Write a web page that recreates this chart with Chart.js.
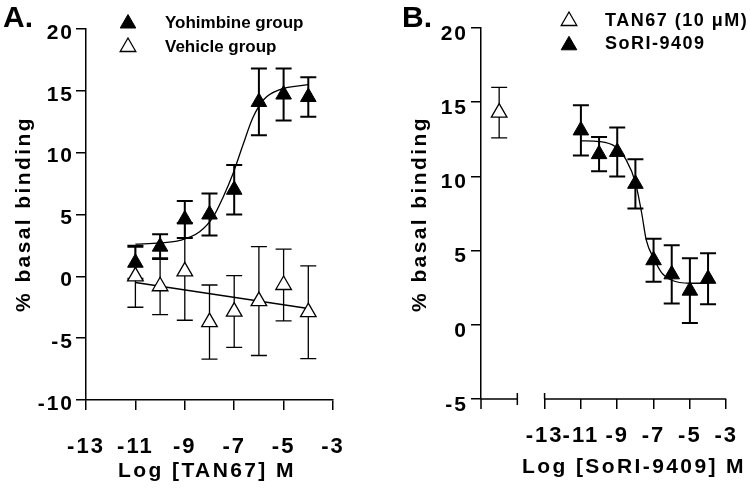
<!DOCTYPE html>
<html>
<head>
<meta charset="utf-8">
<script src="https://cdn.jsdelivr.net/npm/chart.js@4.4.1/dist/chart.umd.min.js"></script>
<style>
  html, body { margin: 0; padding: 0; background: #fff; }
  #wrap { position: relative; width: 750px; height: 494px; }
  canvas { position: absolute; top: 0; }
  #chartA { left: 0; }
  #chartB { left: 375px; }
</style>
</head>
<body>
<div id="wrap">
  <canvas id="chartA" width="375" height="494"></canvas>
  <canvas id="chartB" width="375" height="494"></canvas>
</div>
<script>
// ── Panel A data (log dose of TAN67) ──
const doseA = [-11, -10, -9, -8, -7, -6, -5, -4];
const yohMean = [1.1, 2.4, 4.6, 5.0, 7.0, 14.1, 14.7, 14.5];
const yohErr  = [1.3, 1.0, 1.5, 1.7, 2.0, 2.7, 2.1, 1.6];
const vehMean = [0.0, -0.8, 0.4, -3.7, -2.85, -2.0, -0.7, -2.9];
const vehErr  = [2.5, 2.3, 3.95, 3.0, 2.9, 4.4, 2.9, 3.75];
// fitted curves
const yohFitX = [-11, -10, -9.2, -8.4, -7.85, -7.45, -7.05, -6.65, -6.25, -5.8, -5.15, -4];
const yohFitY = [2.6, 2.7, 2.9, 3.6, 4.8, 6.4, 8.3, 10.6, 12.8, 14.3, 15.1, 15.5];
const vehFitX = [-11, -4];
const vehFitY = [-0.5, -2.6];
const xTicksA = [-13, -11, -9, -7, -5, -3];
const yTicksA = [-10, -5, 0, 5, 10, 15, 20];

// ── Panel B data (log dose of SoRI-9409) ──
const doseB = [-11, -10, -9, -8, -7, -6, -5, -4];
const soriMean = [13.1, 11.5, 11.65, 9.5, 4.35, 3.4, 2.3, 3.1];
const soriErr  = [1.7, 1.16, 1.65, 1.66, 1.45, 1.96, 2.18, 1.72];
const tanX = [-15.5];
const tanMean = [14.3];
const tanErr = [1.7];
const soriFitX = [-11, -10, -9.1, -8.5, -8, -7.65, -7.4, -7, -6.55, -6, -5, -4];
const soriFitY = [12.4, 12.35, 12.0, 11.1, 9.6, 7.5, 5.7, 4.5, 3.5, 3.0, 2.8, 2.8];
const xTicksB = [-13, -11, -9, -7, -5, -3];
const yTicksB = [-5, 0, 5, 10, 15, 20];
const axisBreakB = [-14.5, -13];

Chart.defaults.font.family = '"Liberation Sans", Arial, sans-serif';
Chart.defaults.color = '#000';

const pts = (xs, ys) => xs.map((x, i) => ({ x, y: ys[i] }));

// error bars under the markers
const errorBars = {
  id: 'errorBars',
  beforeDatasetsDraw(chart) {
    const { ctx, scales: { x, y } } = chart;
    chart.data.datasets.forEach(ds => {
      if (!ds.errors) return;
      ctx.save();
      ctx.strokeStyle = '#000';
      ctx.lineWidth = ds.errorWidth;
      ds.data.forEach((p, j) => {
        const e = ds.errors[j];
        const px = x.getPixelForValue(p.x);
        const top = y.getPixelForValue(p.y + e);
        const bot = y.getPixelForValue(p.y - e);
        ctx.beginPath();
        ctx.moveTo(px, top); ctx.lineTo(px, bot);
        ctx.moveTo(px - 8, top); ctx.lineTo(px + 8, top);
        ctx.moveTo(px - 8, bot); ctx.lineTo(px + 8, bot);
        ctx.stroke();
      });
      ctx.restore();
    });
  }
};

// panel letter, axis titles and legend
function decor(o) {
  return {
    id: 'decor',
    beforeDraw(chart) { chart.ctx.letterSpacing = '2px'; },
    afterDraw(chart) {
      const ctx = chart.ctx;
      ctx.save();
      ctx.fillStyle = '#000';
      ctx.strokeStyle = '#000';
      ctx.letterSpacing = '0px';
      ctx.textAlign = 'left';
      ctx.textBaseline = 'alphabetic';
      ctx.font = 'bold 30px "Liberation Sans"';
      ctx.fillText(o.panel, o.panelX, 27);

      ctx.font = 'bold 21px "Liberation Sans"';
      ctx.letterSpacing = '2.4px';
      ctx.textAlign = 'center';
      ctx.fillText(o.xTitle, o.xTitleX, o.xTitleY);
      ctx.save();
      ctx.translate(o.yTitleX, 214);
      ctx.rotate(-Math.PI / 2);
      ctx.textBaseline = 'middle';
      ctx.fillText(o.yTitle, 0, 0);
      ctx.restore();

      ctx.textAlign = 'left';
      ctx.font = o.legendFont;
      ctx.letterSpacing = o.legendSpacing;
      o.legend.forEach(it => {
        const ds = chart.data.datasets[it.ds];
        ctx.fillStyle = ds.backgroundColor;
        ctx.lineWidth = ds.borderWidth;
        Chart.helpers.drawPoint(ctx, { pointStyle: 'triangle', radius: 9, rotation: 0, borderWidth: ds.borderWidth }, it.mx, it.my);
        ctx.fillStyle = '#000';
        ctx.fillText(ds.label, it.tx, it.ty);
      });
      ctx.restore();
      ctx.letterSpacing = '0px';
    }
  };
}

// broken x axis for panel B
const brokenAxis = {
  id: 'brokenAxis',
  beforeDatasetsDraw(chart) {
    const { ctx, chartArea, scales: { x } } = chart;
    const yb = chartArea.bottom;
    const b0 = x.getPixelForValue(axisBreakB[0]);
    const b1 = x.getPixelForValue(axisBreakB[1]);
    const end = x.getPixelForValue(x.max);
    ctx.save();
    ctx.strokeStyle = '#000';
    ctx.lineWidth = 1.5;
    ctx.beginPath();
    ctx.moveTo(chartArea.left, yb - 0.75); ctx.lineTo(chartArea.left, yb + 10);
    ctx.moveTo(chartArea.left, yb); ctx.lineTo(b0, yb);
    ctx.moveTo(b0, yb - 6); ctx.lineTo(b0, yb + 6);
    ctx.moveTo(b1, yb); ctx.lineTo(end, yb);
    ctx.moveTo(b1, yb - 6); ctx.lineTo(b1, yb);
    ctx.stroke();
    ctx.restore();
  }
};

function axisOpts(ticks, extra) {
  return Object.assign({
    type: 'linear',
    afterBuildTicks: s => { s.ticks = ticks.map(v => ({ value: v })); },
    grid: { drawOnChartArea: false, drawTicks: true, tickLength: 10, color: '#000', lineWidth: 1.5 },
    border: { display: true, color: '#000', width: 1.5 },
  }, extra);
}

const common = {
  responsive: false,
  animation: false,
  events: [],
  plugins: { legend: { display: false }, tooltip: { enabled: false } },
};

// ── Panel A ──
new Chart(document.getElementById('chartA'), {
  type: 'scatter',
  data: {
    datasets: [
      { label: 'Yohimbine group', data: pts(doseA, yohMean), errors: yohErr, errorWidth: 2,
        pointStyle: 'triangle', pointRadius: 9, backgroundColor: '#000', borderColor: '#000', borderWidth: 1 },
      { label: 'Vehicle group', data: pts(doseA, vehMean), errors: vehErr, errorWidth: 1.3,
        pointStyle: 'triangle', pointRadius: 9, backgroundColor: '#fff', borderColor: '#000', borderWidth: 1.3 },
      { label: 'fit', data: pts(yohFitX, yohFitY), showLine: true, pointRadius: 0,
        borderColor: '#000', borderWidth: 1.3, cubicInterpolationMode: 'monotone' },
      { label: 'fit2', data: pts(vehFitX, vehFitY), showLine: true, pointRadius: 0,
        borderColor: '#000', borderWidth: 1.3 },
    ]
  },
  options: Object.assign({}, common, {
    layout: { padding: { top: 29, right: 42, left: 0, bottom: 0 } },
    scales: {
      x: axisOpts(xTicksA, {
        min: -13, max: -3, position: 'bottom',
        afterFit: s => { s.height = 94; },
        ticks: { autoSkip: false, maxRotation: 0, padding: 24, font: { size: 22, weight: 'bold' } },
      }),
      y: axisOpts(yTicksA, {
        min: -10, max: 20,
        afterFit: s => { s.width = 86; },
        ticks: { padding: 2, labelOffset: 4, font: { size: 21, weight: 'bold' } },
      }),
    }
  }),
  plugins: [errorBars, decor({
    panel: 'A.', panelX: 3,
    xTitle: 'Log [TAN67] M', xTitleX: 207, xTitleY: 477,
    yTitle: '% basal binding', yTitleX: 24,
    legendFont: 'bold 17px "Liberation Sans Narrow", "Liberation Sans"', legendSpacing: '0px',
    legend: [
      { ds: 0, mx: 128, my: 23.5, tx: 165, ty: 28.3 },
      { ds: 1, mx: 128, my: 47, tx: 165, ty: 51.7 },
    ]
  })]
});

// ── Panel B ──
new Chart(document.getElementById('chartB'), {
  type: 'scatter',
  data: {
    datasets: [
      { label: 'TAN67 (10 \u03BCM)', data: pts(tanX, tanMean), errors: tanErr, errorWidth: 1.3,
        pointStyle: 'triangle', pointRadius: 9, backgroundColor: '#fff', borderColor: '#000', borderWidth: 1.3 },
      { label: 'SoRI-9409', data: pts(doseB, soriMean), errors: soriErr, errorWidth: 2,
        pointStyle: 'triangle', pointRadius: 9, backgroundColor: '#000', borderColor: '#000', borderWidth: 1 },
      { label: 'fit', data: pts(soriFitX, soriFitY), showLine: true, pointRadius: 0,
        borderColor: '#000', borderWidth: 1.3, cubicInterpolationMode: 'monotone' },
    ]
  },
  options: Object.assign({}, common, {
    layout: { padding: { top: 28, right: 22, left: 0, bottom: 0 } },
    scales: {
      x: axisOpts(xTicksB, {
        min: -16.5, max: -3, position: 'bottom',
        border: { display: false },
        afterFit: s => { s.height = 95; },
        ticks: { autoSkip: false, maxRotation: 0, padding: 14, font: { size: 22, weight: 'bold' } },
      }),
      y: axisOpts(yTicksB, {
        min: -5, max: 20,
        afterFit: s => { s.width = 106; },
        ticks: { padding: 3, labelOffset: 6, font: { size: 21, weight: 'bold' } },
      }),
    }
  }),
  plugins: [errorBars, brokenAxis, decor({
    panel: 'B.', panelX: 27,
    xTitle: 'Log [SoRI-9409] M', xTitleX: 259, xTitleY: 473,
    yTitle: '% basal binding', yTitleX: 45,
    legendFont: 'bold 18px "Liberation Sans"', legendSpacing: '1.5px',
    legend: [
      { ds: 0, mx: 194, my: 21, tx: 230, ty: 26 },
      { ds: 1, mx: 194, my: 45.3, tx: 230, ty: 49.3 },
    ]
  })]
});
</script>
</body>
</html>
